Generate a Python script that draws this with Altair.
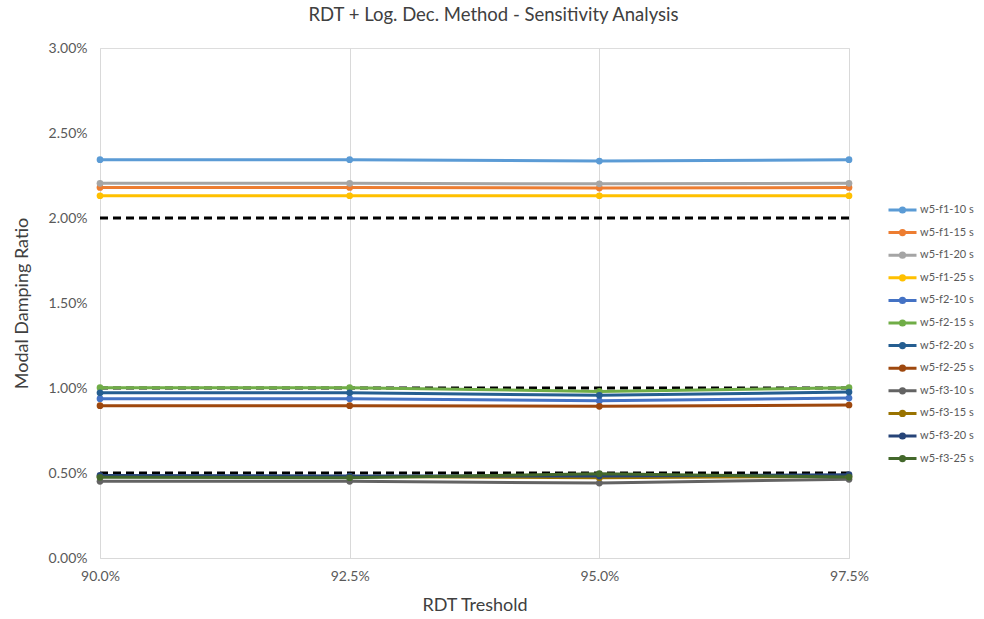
import altair as alt
import pandas as pd

# RDT threshold levels (fractions) and modal damping ratios (%) per series
thresholds = [0.900, 0.925, 0.950, 0.975]

series_names = [
    "w5-f1-10 s", "w5-f1-15 s", "w5-f1-20 s", "w5-f1-25 s",
    "w5-f2-10 s", "w5-f2-15 s", "w5-f2-20 s", "w5-f2-25 s",
    "w5-f3-10 s", "w5-f3-15 s", "w5-f3-20 s", "w5-f3-25 s",
]
series_colors = [
    "#5B9BD5", "#ED7D31", "#A5A5A5", "#FFC000",
    "#4472C4", "#70AD47", "#255E91", "#9E480E",
    "#636363", "#997300", "#264478", "#43682B",
]

w5_f1_10 = [2.343, 2.343, 2.335, 2.343]
w5_f1_15 = [2.180, 2.180, 2.176, 2.180]
w5_f1_20 = [2.204, 2.204, 2.201, 2.204]
w5_f1_25 = [2.131, 2.131, 2.131, 2.131]
w5_f2_10 = [0.937, 0.937, 0.925, 0.941]
w5_f2_15 = [1.002, 1.002, 0.980, 1.002]
w5_f2_20 = [0.972, 0.972, 0.957, 0.976]
w5_f2_25 = [0.896, 0.896, 0.892, 0.900]
w5_f3_10 = [0.451, 0.451, 0.441, 0.463]
w5_f3_15 = [0.479, 0.479, 0.472, 0.480]
w5_f3_20 = [0.486, 0.482, 0.482, 0.490]
w5_f3_25 = [0.475, 0.472, 0.496, 0.476]

# Reference target levels (%) drawn as dashed lines
target_levels = [2.0, 1.0, 0.5]

all_values = [
    w5_f1_10, w5_f1_15, w5_f1_20, w5_f1_25,
    w5_f2_10, w5_f2_15, w5_f2_20, w5_f2_25,
    w5_f3_10, w5_f3_15, w5_f3_20, w5_f3_25,
]

rows = []
for name, vals in zip(series_names, all_values):
    for t, v in zip(thresholds, vals):
        rows.append({"series": name, "threshold": t, "ratio": v / 100.0})
df = pd.DataFrame(rows)

targets = []
for lvl in target_levels:
    for t in (thresholds[0], thresholds[-1]):
        targets.append({"level": str(lvl), "threshold": t, "ratio": lvl / 100.0})
df_targets = pd.DataFrame(targets)

FONT = "Lato"
x_scale = alt.Scale(domain=[thresholds[0], thresholds[-1]], nice=False, zero=False)
y_scale = alt.Scale(domain=[0, 0.03], nice=False)

x_enc = alt.X(
    "threshold:Q", scale=x_scale,
    axis=alt.Axis(
        title="RDT Treshold", values=thresholds, format=".1%",
        grid=True, gridColor="#D9D9D9", gridWidth=1,
        domain=True, domainColor="#D9D9D9", domainWidth=1,
        ticks=False, labelFlush=False, labelAlign="center",
        labelPadding=11, labelFontSize=14, labelColor="#595959",
        titleFontSize=18, titleFontWeight="normal", titleColor="#404040",
        titlePadding=13, labelFont=FONT, titleFont=FONT,
    ),
)
y_enc = alt.Y(
    "ratio:Q", scale=y_scale,
    axis=alt.Axis(
        title="Modal Damping Ratio", values=[0, 0.005, 0.01, 0.015, 0.02, 0.025, 0.03],
        format=".2%", grid=False, domain=False, ticks=False,
        labelPadding=13, labelFontSize=14, labelColor="#595959",
        titleFontSize=18, titleFontWeight="normal", titleColor="#404040",
        titlePadding=17, labelFont=FONT, titleFont=FONT,
    ),
)

dashed = alt.Chart(df_targets).mark_line(
    color="black", strokeDash=[8, 5], strokeWidth=2.8
).encode(x=x_enc, y=y_enc, detail="level:N")

legend_symbol = "M-1,0L1,0M-0.15,0A0.15,0.15,0,1,1,0.15,0A0.15,0.15,0,1,1,-0.15,0Z"

lines = alt.Chart(df).mark_line(
    strokeWidth=3,
    point=alt.OverlayMarkDef(filled=True, size=45, opacity=1),
).encode(
    x=x_enc,
    y=y_enc,
    color=alt.Color(
        "series:N",
        scale=alt.Scale(domain=series_names, range=series_colors),
        sort=series_names,
        legend=alt.Legend(
            title=None, orient="none", legendX=787, legendY=156,
            symbolType=legend_symbol, symbolSize=784, symbolStrokeWidth=3,
            clipHeight=12, rowPadding=10.6, labelOffset=2,
            labelFontSize=11, labelColor="#595959", labelFont=FONT,
        ),
    ),
    order=alt.Order("threshold:Q"),
)

chart = alt.layer(dashed, lines).properties(
    width=749,
    height=510,
    autosize=alt.AutoSizeParams(type="none"),
    padding={"left": 100, "top": 48, "right": 135, "bottom": 61},
    title=alt.TitleParams(
        "RDT + Log. Dec. Method - Sensitivity Analysis",
        fontSize=18.5, fontWeight="normal", color="#404040", font=FONT,
        anchor="middle", dx=19, offset=17,
    ),
).configure_view(stroke=None).configure(background="white")

chart.save("out.html", embed_options={"renderer": "svg", "actions": False})
